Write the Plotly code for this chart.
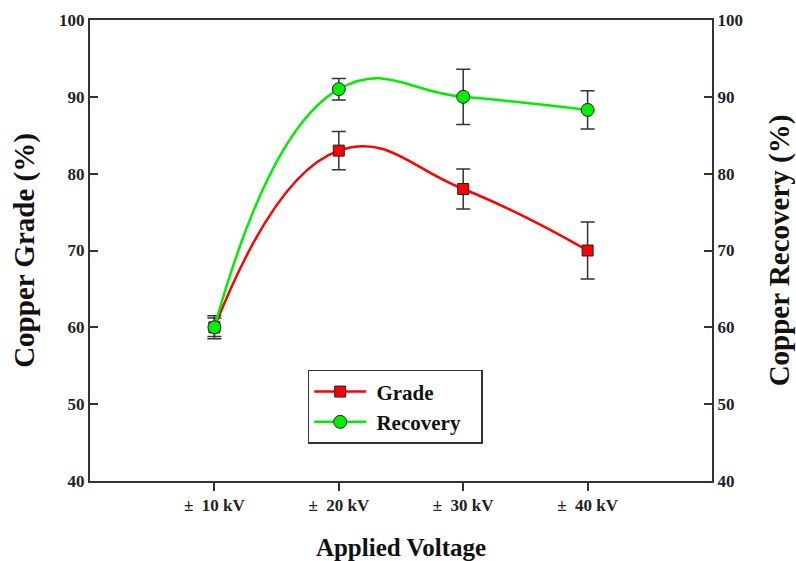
import plotly.graph_objects as go

categories = ["±  10 kV", "±  20 kV", "±  30 kV", "±  40 kV"]
x_pos = [1, 2, 3, 4]
grade = [60.0, 83.0, 78.0, 70.0]
grade_err = [1.2, 2.5, 2.6, 3.7]
recovery = [60.0, 91.0, 90.0, 88.3]
recovery_err = [1.5, 1.4, 3.6, 2.5]
y_ticks = [40, 50, 60, 70, 80, 90, 100]

FONT = "Liberation Serif"
NB = "\u00a0"

fig = go.Figure()
fig.add_trace(go.Scatter(
    x=x_pos, y=grade, name=f"<b>{NB}Grade</b>", mode="lines+markers",
    line=dict(color="#ff0000", width=2.5, shape="spline", smoothing=1.3),
    marker=dict(symbol="square", size=11, color="#ff0000", line=dict(color="#222", width=1)),
    error_y=dict(type="data", array=grade_err, color="#333", thickness=1.5, width=7),
))
fig.add_trace(go.Scatter(
    x=x_pos, y=recovery, name=f"<b>{NB}Recovery{NB}{NB}{NB}</b>", mode="lines+markers", yaxis="y2",
    line=dict(color="#00ee00", width=2.5, shape="spline", smoothing=1.3),
    marker=dict(symbol="circle", size=13, color="#00ee00", line=dict(color="#222", width=1)),
    error_y=dict(type="data", array=recovery_err, color="#333", thickness=1.5, width=7),
))

axis_font = dict(family=FONT, size=17, color="#222")
x_font = dict(family=FONT, size=17, color="#222")

fig.update_layout(
    width=796, height=561,
    margin=dict(l=90, r=84, t=20, b=80),
    paper_bgcolor="white", plot_bgcolor="white",
    font=dict(family=FONT, color="#111"),
    showlegend=True,
    legend=dict(
        x=0.35, y=0.241, xanchor="left", yanchor="top",
        bordercolor="#333", borderwidth=1.5, bgcolor="white",
        font=dict(family=FONT, size=21, color="#111"),
        itemwidth=52, tracegroupgap=0,
    ),
    xaxis=dict(
        range=[0, 5], tickvals=x_pos, ticktext=[f"<b>{c}</b>" for c in categories],
        ticks="outside", ticklen=8, tickwidth=1.5, tickcolor="#333",
        showline=True, linecolor="#333", linewidth=2, mirror=True,
        showgrid=False, zeroline=False, tickfont=x_font, automargin=False,
        title=dict(text="<b>Applied Voltage</b>", font=dict(family=FONT, size=25, color="#111"), standoff=28),
    ),
    yaxis=dict(
        range=[40, 100], tickvals=y_ticks, ticktext=[f"<b>{v}</b>" for v in y_ticks],
        ticks="inside", ticklen=8, tickwidth=1.5, tickcolor="#333",
        showline=True, linecolor="#333", linewidth=2, automargin=False,
        showgrid=False, zeroline=False, tickfont=axis_font,
        title=dict(text="<b>Copper Grade (%)</b>", font=dict(family=FONT, size=29, color="#111"), standoff=16),
    ),
    yaxis2=dict(
        range=[40, 100], tickvals=y_ticks, ticktext=[f"<b>{v}</b>" for v in y_ticks],
        overlaying="y", side="right", automargin=False,
        ticks="inside", ticklen=8, tickwidth=1.5, tickcolor="#333",
        showline=True, linecolor="#333", linewidth=2,
        showgrid=False, zeroline=False, tickfont=axis_font,
        title=dict(text="<b>Copper Recovery (%)</b>", font=dict(family=FONT, size=29, color="#111"), standoff=32),
    ),
)

fig.write_html("out.html")
